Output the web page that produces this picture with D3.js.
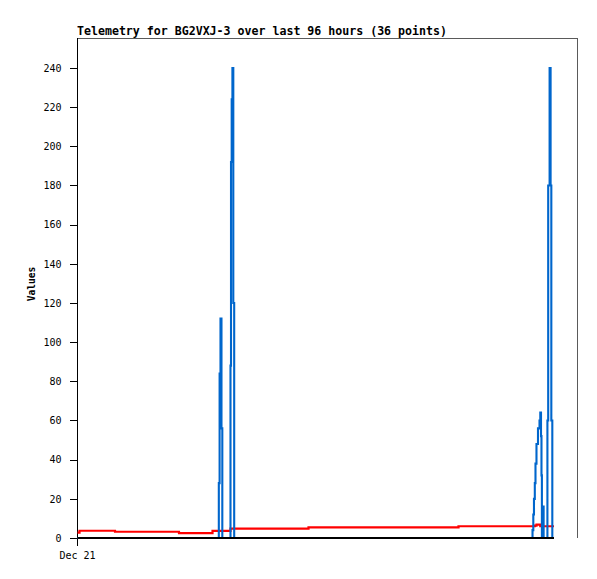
<!DOCTYPE html>
<html><head><meta charset="utf-8">
<script src="https://cdn.jsdelivr.net/npm/d3@7"></script>
<style>
html,body{margin:0;padding:0;background:#fff;}
svg{display:block;}
text{font-family:"DejaVu Sans Mono","Liberation Mono",monospace;}
</style></head>
<body>
<script>
// ---- data ----
const titleText = "Telemetry for BG2VXJ-3 over last 96 hours (36 points)";
const yLabel = "Values";
const startTime = "2023-12-21T00:00:00";
// hours since start of Dec 21
const hours = [0.10,0.48,7.10,7.30,19.39,19.58,25.73,26.02,
  27.13,27.23,27.38,27.55,27.74,27.90,
  29.28,29.47,29.57,29.70,29.84,30.01,30.18,
  44.26,44.45,73.06,73.25,
  87.36,87.46,87.61,87.74,87.90,88.03,88.22,88.51,88.80,88.95,89.09,89.18,89.26,89.40,89.59,
  90.24,90.32,90.47,90.74,90.93,91.07,91.26,91.58];
const blueValues = [0,0,0,0,0,0,0,0,
  0,28,84,112,56,0,
  0,88,192,224,240,120,0,
  0,0,0,0,
  0,4,12,20,28,38,48,56,60,64,52,32,0,16,0,
  0,60,180,240,180,60,0,0];
const redValues = [2.7,3.7,3.7,3.2,3.2,2.5,2.5,3.6,
  3.6,3.6,3.6,3.6,3.6,3.6,
  3.6,4.8,4.8,4.8,4.8,4.8,4.8,
  4.8,5.4,5.4,6.0,
  6.0,6.0,6.0,6.0,6.3,6.3,6.8,6.8,6.8,6.0,6.0,6.0,6.0,6.0,6.0,
  6.0,6.0,6.0,6.0,6.0,6.0,6.0,6.0];
const blackValues = hours.map(() => 0);
const yTicks = [0,20,40,60,80,100,120,140,160,180,200,220,240];
const xTickLabels = ["Dec 21"];
const yMax = 255.3;
const spanHours = 96;

// ---- layout ----
const W = 597, H = 579;
const L = 77, R = 577, T = 38, B = 538;
const t0 = new Date(startTime);
const toDate = h => new Date(t0.getTime() + h * 3600e3);

const x = d3.scaleTime().domain([t0, toDate(spanHours)]).range([L, R]);
const y = d3.scaleLinear().domain([0, yMax]).range([B, T]);

const svg = d3.select("body").append("svg").attr("width", W).attr("height", H);

// frame (top and right, gray)
svg.append("path")
  .attr("d", `M${L},${T + 0.5}H${R + 0.5}V${B}`)
  .attr("fill", "none").attr("stroke", "#5a5a5a").attr("stroke-width", 1)
  .attr("shape-rendering", "crispEdges");

// title
svg.append("text").attr("x", L).attr("y", 35)
  .attr("font-size", 11.6).attr("font-weight", "bold").text(titleText);

// y axis
const yAxis = d3.axisLeft(y).tickValues(yTicks).tickSize(8).tickPadding(8).tickFormat(d3.format("d"));
const gy = svg.append("g").attr("transform", `translate(${L + 0.5},0)`).call(yAxis);
gy.select(".domain").remove();
gy.selectAll(".tick line").attr("stroke", "#000").attr("shape-rendering", "crispEdges");
gy.selectAll(".tick text").attr("font-size", 10).attr("fill", "#000")
  .attr("font-family", '"DejaVu Sans Mono", monospace');
svg.append("line").attr("x1", L + 0.5).attr("x2", L + 0.5).attr("y1", T).attr("y2", B + 8)
  .attr("stroke", "#000").attr("shape-rendering", "crispEdges");

// x axis tick label
const xAxis = d3.axisBottom(x).tickValues([t0]).tickSize(0).tickPadding(14)
  .tickFormat((d, i) => xTickLabels[i]);
const gx = svg.append("g").attr("transform", `translate(0,${B})`).call(xAxis);
gx.select(".domain").remove();
gx.selectAll(".tick text").attr("font-size", 10).attr("fill", "#000")
  .attr("font-family", '"DejaVu Sans Mono", monospace');

// y label
svg.append("text").attr("transform", `translate(35,${(T + B) / 2 - 4}) rotate(-90)`)
  .attr("text-anchor", "middle").attr("font-size", 9.6).attr("font-weight", "bold").text(yLabel);

// series (stepped lines)
const line = vals => d3.line().curve(d3.curveStepAfter)
  .x((d, i) => x(toDate(hours[i]))).y(d => y(d))(vals);
svg.append("path").attr("d", line(redValues)).attr("fill", "none")
  .attr("stroke", "#ff0000").attr("stroke-width", 2.2);
svg.append("path").attr("d", line(blueValues)).attr("fill", "none")
  .attr("stroke", "#0066cc").attr("stroke-width", 2.1);
svg.append("path").attr("d", line(blackValues)).attr("fill", "none")
  .attr("stroke", "#000").attr("stroke-width", 2.2);
</script>
</body></html>
